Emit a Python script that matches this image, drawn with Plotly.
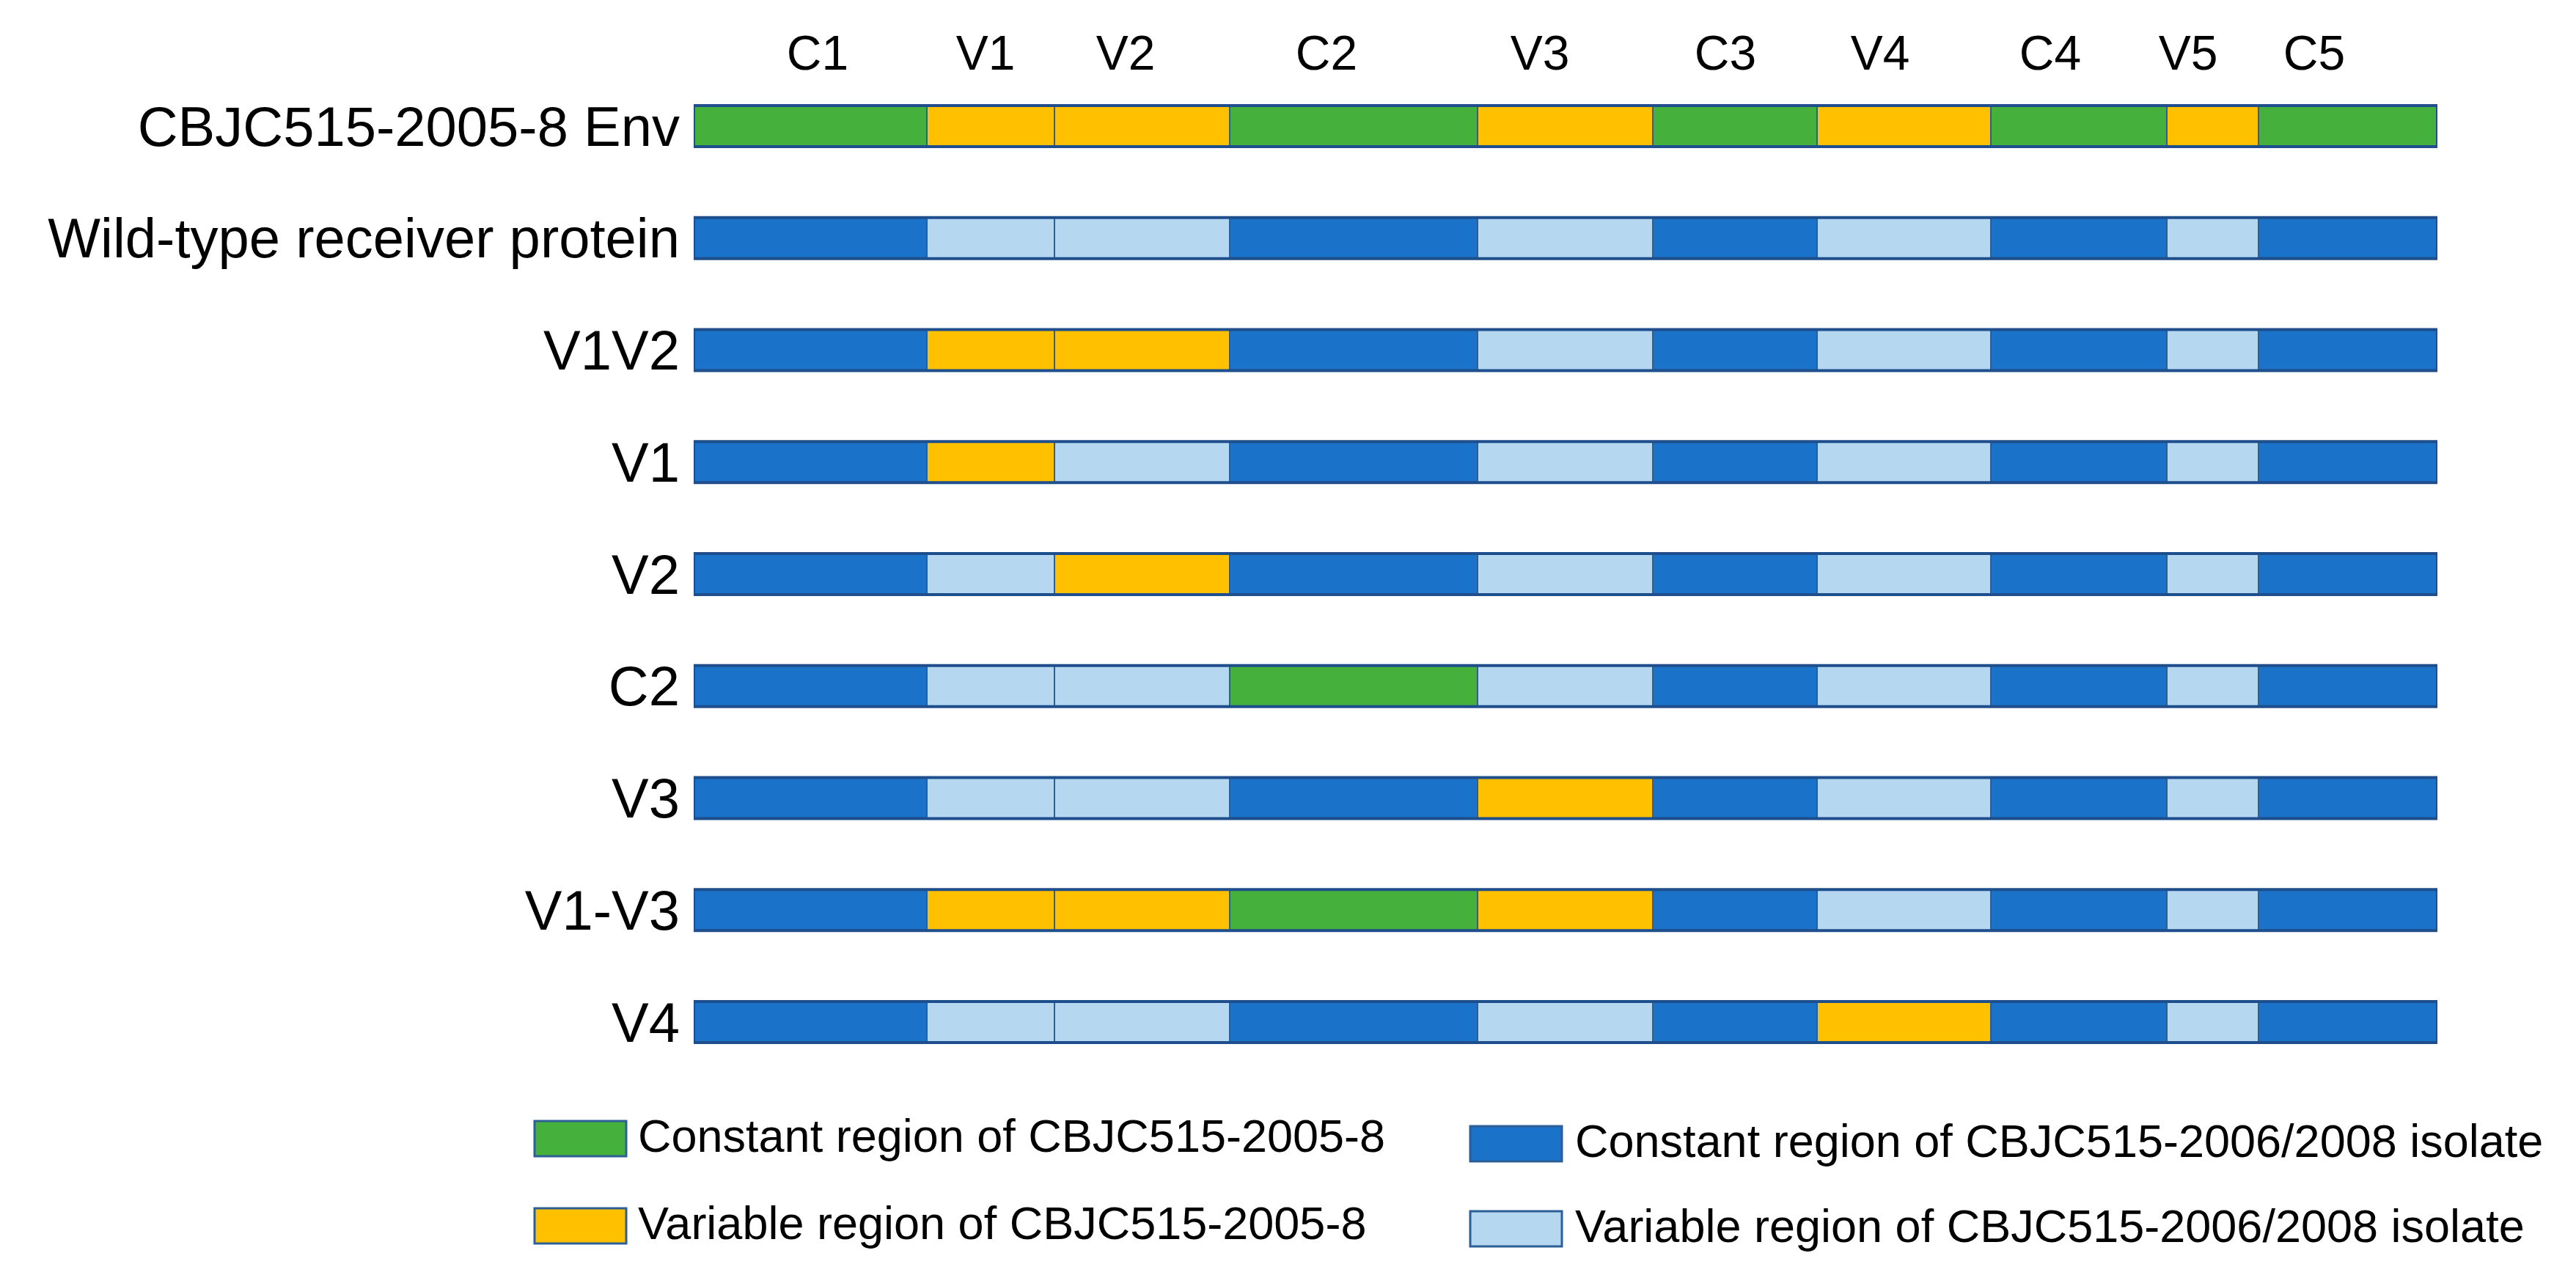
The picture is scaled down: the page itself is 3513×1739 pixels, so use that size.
import plotly.graph_objects as go

# constructs, top to bottom
ROWS = ["CBJC515-2005-8 Env", "Wild-type receiver protein", "V1V2", "V1", "V2",
        "C2", "V3", "V1-V3", "V4"]
REGIONS = ["C1", "V1", "V2", "C2", "V3", "C3", "V4", "C4", "V5", "C5"]
REGION_LEN = [318, 174, 239, 338, 239, 224, 237, 240, 125, 244]   # relative widths
# which regions come from CBJC515-2005-8 in each construct
SWAPPED = [REGIONS, [], ["V1", "V2"], ["V1"], ["V2"], ["C2"], ["V3"],
           ["V1", "V2", "C2", "V3"], ["V4"]]
LABEL_X = [169, 398, 589, 863, 1154, 1407, 1618, 1850, 2038, 2210]  # header label spots
LEGEND_TEXT = ["Constant region of CBJC515-2005-8", "Variable region of CBJC515-2005-8",
               "Constant region of CBJC515-2006/2008 isolate",
               "Variable region of CBJC515-2006/2008 isolate"]

W, H = 3513, 1739
GREEN, YELLOW = "#45B03B", "#FFC000"
BLUE, LIGHT = "#1A72C9", "#B5D8F0"
EDGE, SEP = "#1F4E8C", "#2C5F95"
FONT = "Liberation Sans, Arial, sans-serif"

total = sum(REGION_LEN)
starts = [sum(REGION_LEN[:i]) for i in range(len(REGION_LEN))]
rows_y = list(range(len(ROWS)))


def seg_color(region, swapped):
    if region in swapped:
        return GREEN if region.startswith("C") else YELLOW
    return BLUE if region.startswith("C") else LIGHT


fig = go.Figure()
for reg, start, length in zip(REGIONS, starts, REGION_LEN):
    fig.add_trace(go.Bar(
        y=rows_y, x=[length] * len(ROWS), base=[start] * len(ROWS),
        orientation="h", width=0.367,
        marker=dict(color=[seg_color(reg, s) for s in SWAPPED],
                    line=dict(color=SEP, width=2)),
        hoverinfo="skip", showlegend=False))
# outer frame of every construct
fig.add_trace(go.Bar(
    y=rows_y, x=[total] * len(ROWS), base=[0] * len(ROWS), orientation="h", width=0.367,
    marker=dict(color="rgba(0,0,0,0)", line=dict(color=EDGE, width=4)),
    hoverinfo="skip", showlegend=False))
# region names across the top
fig.add_trace(go.Scatter(
    x=LABEL_X, y=[-0.615] * len(REGIONS), mode="text", text=REGIONS,
    textfont=dict(family=FONT, size=66, color="black"), cliponaxis=False,
    hoverinfo="skip", showlegend=False))

# legend drawn by hand: 2 x 2 grid
legend_items = [(721, 1545, GREEN, 860), (721, 1664, YELLOW, 860),
                (1997, 1552, BLUE, 2138), (1997, 1668, LIGHT, 2138)]
px = lambda v: v / W
py = lambda v: 1 - v / H
for (bx, yc, col, tx), label in zip(legend_items, LEGEND_TEXT):
    fig.add_shape(type="rect", xref="paper", yref="paper",
                  x0=px(bx), x1=px(bx + 125), y0=py(yc + 24), y1=py(yc - 24),
                  fillcolor=col, line=dict(color=SEP, width=3))
    fig.add_annotation(xref="paper", yref="paper", x=px(tx), y=py(yc - 4),
                       xanchor="left", yanchor="middle", showarrow=False, text=label,
                       font=dict(family=FONT, size=63, color="black"))

fig.update_layout(
    width=W, height=H, margin=dict(l=0, r=0, t=0, b=0),
    paper_bgcolor="white", plot_bgcolor="white", barmode="overlay",
    font=dict(family=FONT, color="black"), showlegend=False)
fig.update_xaxes(domain=[938 / W, 3316 / W], range=[0, total], visible=False)
fig.update_yaxes(domain=[0.15906, 0.99353], range=[8.5, -1.0],
                 tickvals=rows_y, ticktext=ROWS, ticks="", ticklabelstandoff=18,
                 tickfont=dict(family=FONT, size=76, color="black"),
                 showgrid=False, zeroline=False, showline=False)

fig.write_html("out.html")
